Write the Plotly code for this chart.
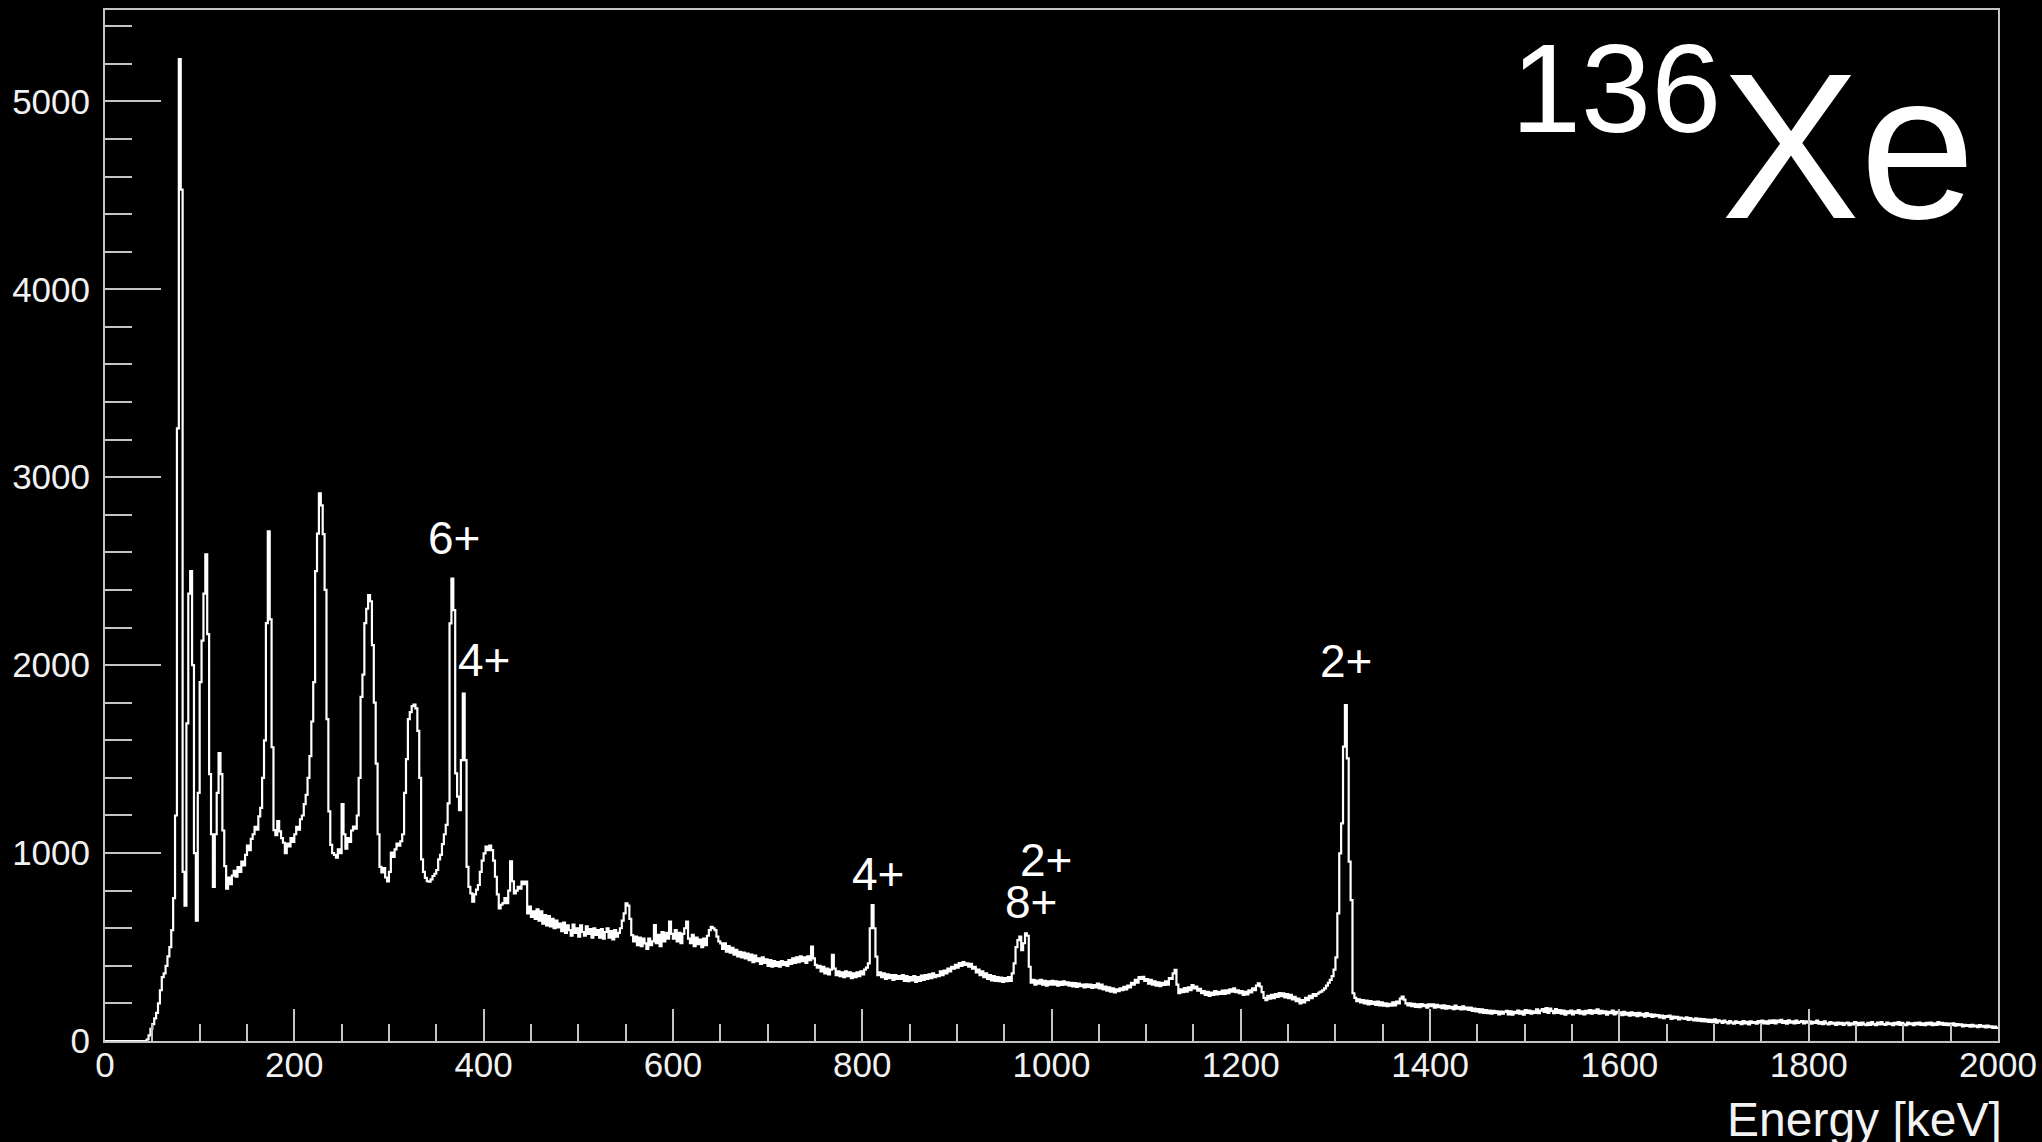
import plotly.graph_objects as go

# Gamma-ray spectrum of 136Xe, 2 keV bins from 0 to 2000 keV
bin_width = 2
e_min = 0

counts_0_400 = [
    0, 0, 0, 0, 0, 0, 0, 0, 0, 0, 0, 0, 0, 0, 0, 0, 0, 0, 0, 0,
    0, 0, 8, 30, 65, 90, 120, 150, 200, 270, 340, 360, 400, 450, 500, 590, 760, 1200, 3260, 5225,
    4530, 900, 720, 1690, 2380, 2500, 2000, 1000, 640, 1320, 1910, 2130, 2380, 2590, 2165, 1420, 1100, 820, 1100, 1320,
    1532, 1420, 1120, 930, 810, 870, 835, 880, 905, 875, 925, 900, 955, 935, 990, 1040, 1015, 1075, 1100, 1140,
    1125, 1195, 1240, 1400, 1600, 2224, 2712, 2244, 1563, 1122, 1095, 1170, 1115, 1080, 1055, 1000, 1050, 1035, 1080, 1060,
    1100, 1140, 1125, 1180, 1200, 1260, 1310, 1400, 1516, 1700, 1910, 2500, 2700, 2914, 2850, 2697, 2400, 1713, 1222, 1044,
    1000, 990, 975, 1020, 1000, 1261, 1100, 1024, 1080, 1060, 1120, 1141, 1130, 1200, 1400, 1831, 1950, 2224, 2300, 2372,
    2340, 2107, 1800, 1476, 1100, 927, 897, 920, 870, 849, 900, 1003, 980, 1020, 1050, 1040, 1063, 1100, 1320, 1500,
    1713, 1750, 1782, 1790, 1770, 1650, 1400, 966, 900, 868, 850, 848, 860, 878, 890, 910, 966, 990, 1048, 1100,
    1150, 1264, 2222, 2461, 2293, 1424, 1300, 1229, 1495, 1849, 1495, 927, 820, 785, 741, 780, 805, 830, 900, 960,
]

counts_400_800 = [
    998, 1034, 1015, 1040, 1016, 960, 874, 780, 706, 725, 734, 760, 734, 800, 956, 850, 785, 800, 820, 810,
    848, 835, 848, 679, 715, 660, 690, 650, 700, 640, 690, 625, 670, 615, 665, 610, 650, 600, 640, 605,
    625, 585, 630, 575, 615, 590, 560, 620, 575, 600, 555, 615, 580, 560, 610, 570, 595, 550, 600, 565,
    590, 550, 595, 545, 580, 600, 550, 585, 540, 590, 555, 575, 600, 640, 679, 732, 720, 650, 563, 530,
    555, 510, 550, 505, 545, 519, 490, 545, 510, 530, 617, 520, 565, 505, 580, 530, 575, 545, 635, 570,
    545, 590, 530, 575, 520, 570, 600, 635, 545, 520, 565, 505, 550, 515, 540, 500, 545, 510, 560, 590,
    608, 600, 590, 555, 530, 519, 490, 520, 475, 505, 470, 495, 460, 485, 450, 475, 445, 470, 440, 465,
    430, 460, 420, 455, 425, 440, 410, 445, 415, 435, 400, 430, 395, 425, 400, 420, 395, 425, 405, 420,
    400, 430, 410, 440, 415, 445, 420, 450, 425, 445, 415, 450, 430, 502, 440, 405, 390, 400, 370, 395,
    360, 385, 355, 380, 458, 385, 350, 370, 345, 365, 340, 370, 345, 365, 335, 360, 340, 365, 345, 370,
]

counts_800_1200 = [
    355, 380, 390, 413, 600, 723, 600, 449, 350, 365, 340, 360, 330, 355, 335, 350, 325, 350, 330, 345,
    330, 350, 320, 345, 318, 340, 322, 345, 315, 340, 320, 348, 325, 350, 330, 355, 335, 360, 340, 350,
    345, 370, 350, 375, 360, 385, 370, 395, 385, 405, 390, 415, 400, 420, 405, 413, 395, 410, 385, 395,
    365, 380, 350, 370, 340, 360, 330, 350, 322, 345, 320, 340, 318, 338, 315, 335, 318, 340, 320, 360,
    413, 500, 537, 555, 484, 520, 573, 560, 395, 310, 325, 300, 322, 305, 325, 300, 320, 295, 318, 300,
    320, 300, 318, 295, 315, 298, 318, 300, 312, 295, 310, 290, 308, 288, 305, 292, 300, 285, 302, 288,
    300, 282, 298, 285, 305, 280, 300, 275, 290, 268, 285, 262, 280, 258, 275, 265, 280, 270, 288, 275,
    295, 285, 310, 300, 325, 310, 340, 330, 342, 320, 330, 305, 325, 300, 318, 295, 312, 292, 310, 298,
    318, 300, 335, 330, 360, 378, 300, 254, 275, 260, 282, 262, 285, 270, 298, 280, 290, 268, 278, 255,
    265, 245, 262, 240, 258, 245, 265, 248, 262, 250, 268, 250, 270, 255, 275, 262, 280, 260, 270, 255,
]

counts_1200_1600 = [
    265, 245, 262, 248, 270, 258, 280, 270, 295, 307, 290, 260, 230, 218, 240, 225, 245, 228, 250, 235,
    255, 238, 254, 232, 250, 228, 245, 222, 235, 212, 225, 200, 218, 205, 230, 218, 240, 228, 250, 240,
    250, 258, 263, 270, 280, 295, 310, 325, 345, 380, 445, 679, 998, 1158, 1566, 1787, 1504, 954, 750, 254,
    230, 212, 222, 205, 218, 200, 215, 195, 212, 198, 208, 192, 210, 190, 205, 188, 200, 185, 198, 188,
    205, 190, 210, 200, 225, 236, 220, 200, 190, 200, 185, 198, 182, 195, 180, 196, 185, 192, 178, 195,
    185, 195, 178, 192, 180, 188, 175, 190, 172, 186, 175, 182, 170, 188, 172, 180, 168, 185, 170, 178,
    165, 178, 160, 172, 158, 170, 152, 168, 150, 165, 148, 162, 145, 160, 150, 158, 142, 156, 145, 155,
    160, 142, 158, 140, 155, 148, 162, 145, 158, 140, 165, 150, 162, 145, 158, 150, 168, 148, 162, 170,
    155, 175, 150, 172, 160, 148, 170, 150, 165, 145, 162, 140, 158, 148, 162, 142, 158, 150, 165, 145,
    158, 142, 160, 148, 165, 145, 162, 150, 168, 145, 160, 148, 158, 140, 155, 148, 162, 142, 155, 148,
]

counts_1600_2000 = [
    152, 138, 155, 140, 150, 135, 152, 138, 148, 132, 150, 136, 145, 130, 148, 134, 142, 128, 140, 132,
    138, 125, 135, 122, 132, 128, 135, 118, 130, 122, 128, 115, 125, 120, 118, 126, 112, 122, 115, 110,
    120, 108, 118, 105, 116, 104, 114, 102, 112, 100, 115, 98, 110, 104, 96, 108, 100, 94, 106, 98,
    92, 104, 96, 100, 90, 106, 94, 102, 88, 104, 96, 100, 92, 106, 98, 108, 94, 104, 92, 108,
    96, 110, 94, 108, 100, 112, 96, 106, 92, 110, 98, 104, 94, 108, 96, 102, 106, 94, 104, 98,
    104, 92, 102, 96, 108, 92, 100, 90, 104, 94, 88, 100, 92, 96, 86, 98, 90, 96, 86, 94,
    98, 84, 94, 88, 100, 84, 96, 86, 98, 88, 84, 96, 86, 100, 90, 84, 98, 88, 100, 90,
    86, 98, 90, 94, 84, 96, 88, 100, 86, 96, 88, 84, 98, 90, 94, 84, 96, 88, 98, 86,
    94, 84, 96, 88, 98, 84, 94, 86, 100, 88, 96, 86, 94, 84, 92, 86, 94, 82, 90, 84,
    88, 78, 86, 80, 84, 76, 86, 78, 82, 74, 84, 76, 80, 72, 82, 74, 78, 70, 76, 70,
]

# Level labels: text, energy [keV], counts
level_labels = ["6+", "4+", "4+", "2+", "8+", "2+"]
label_energy = [368.7, 400.4, 816.7, 994.2, 978.4, 1311.1]
label_counts = [2675, 2025, 890, 962, 739, 2020]

x_range = [0, 2000]
y_range = [0, 5486]

counts = counts_0_400 + counts_400_800 + counts_800_1200 + counts_1200_1600 + counts_1600_2000
edges = [e_min + bin_width * i for i in range(len(counts) + 1)]
step_y = counts + [counts[-1]]

FONT = "Liberation Sans, Arial, Helvetica, sans-serif"
FRAME = "#c4c4c4"
TEXT = "#f2f2f2"

# Plot area in pixels, used to place the corner texts
PX_L, PX_R, PX_T, PX_B = 105, 1998, 10, 1041


def paper_x(px):
    return (px - PX_L) / (PX_R - PX_L)


def paper_y(py):
    return (PX_B - py) / (PX_B - PX_T)


fig = go.Figure()
fig.add_trace(go.Scatter(
    x=edges, y=step_y, mode="lines",
    line=dict(color="white", width=2.2, shape="hv"),
    hoverinfo="skip", showlegend=False,
))

for txt, ex, cy in zip(level_labels, label_energy, label_counts):
    fig.add_annotation(x=ex, y=cy, xref="x", yref="y", text=txt, showarrow=False,
                       xanchor="center", yanchor="middle",
                       font=dict(family=FONT, size=46, color="white"))

# Isotope tag in the upper right corner
fig.add_annotation(x=paper_x(1723), y=paper_y(89), xref="paper", yref="paper",
                   text="136", showarrow=False, xanchor="right", yanchor="middle",
                   font=dict(family=FONT, size=126, color="white"))
fig.add_annotation(x=paper_x(1977), y=paper_y(146), xref="paper", yref="paper",
                   text="Xe", showarrow=False, xanchor="right", yanchor="middle",
                   font=dict(family=FONT, size=208, color="white"))

# Axis title
fig.add_annotation(x=paper_x(2004), y=paper_y(1119), xref="paper", yref="paper",
                   text="Energy [keV]", showarrow=False, xanchor="right", yanchor="middle",
                   font=dict(family=FONT, size=48, color=TEXT))

fig.update_layout(
    width=2042, height=1142,
    margin=dict(l=PX_L, r=2042 - PX_R, t=PX_T, b=1142 - PX_B, pad=0, autoexpand=False),
    paper_bgcolor="black", plot_bgcolor="black",
    showlegend=False,
)
fig.update_xaxes(
    range=x_range, dtick=200, tick0=0, automargin=False,
    ticks="inside", ticklen=32, tickwidth=1.5, tickcolor=FRAME,
    minor=dict(dtick=50, ticks="inside", ticklen=17, tickwidth=1.5, tickcolor=FRAME, showgrid=False),
    showline=True, linecolor=FRAME, linewidth=2, mirror=True,
    showgrid=False, zeroline=False,
    tickfont=dict(family=FONT, size=35, color=TEXT),
    ticklabelstandoff=-8,
)
fig.update_yaxes(
    range=y_range, dtick=1000, tick0=0, automargin=False,
    ticks="inside", ticklen=56, tickwidth=1.5, tickcolor=FRAME,
    minor=dict(dtick=200, ticks="inside", ticklen=27, tickwidth=1.5, tickcolor=FRAME, showgrid=False),
    showline=True, linecolor=FRAME, linewidth=2, mirror=True,
    showgrid=False, zeroline=False,
    tickfont=dict(family=FONT, size=35, color=TEXT),
    ticklabelstandoff=6,
)

fig.write_html("out.html")
